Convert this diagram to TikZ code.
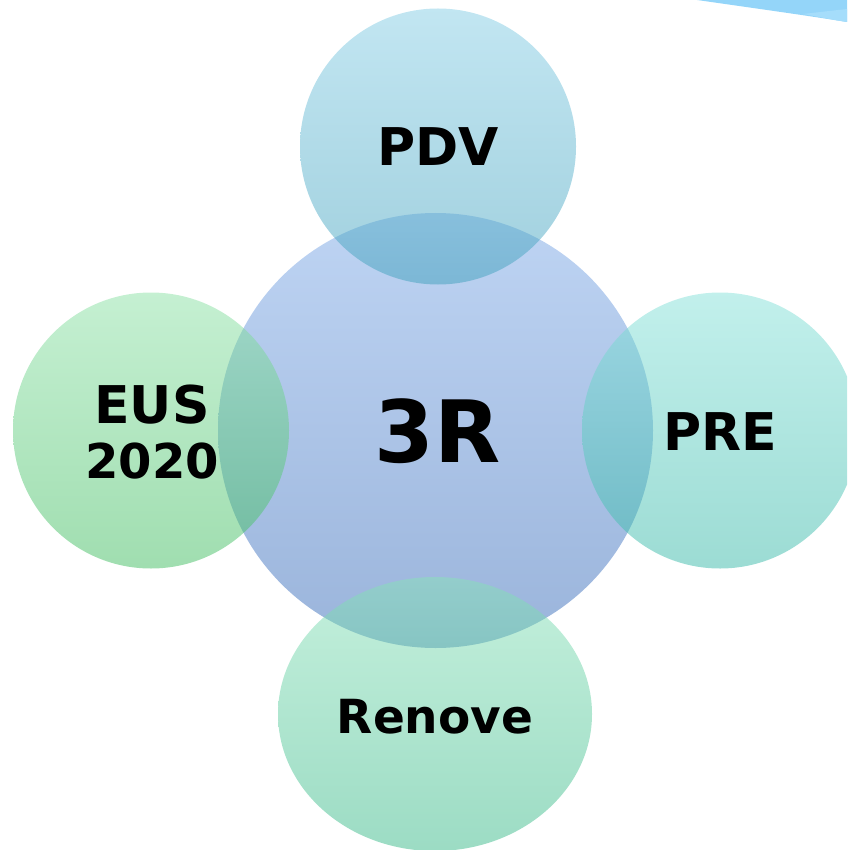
\documentclass[tikz,border=0pt]{standalone}
\usepackage{fontspec}
\setmainfont{DejaVu Sans}
\definecolor{ctop}{RGB}{190,212,243}
\definecolor{cbot}{RGB}{154,180,219}
\definecolor{pdvtop}{RGB}{133,205,229}
\definecolor{pdvbot}{RGB}{65,161,189}
\definecolor{eustop}{RGB}{139,225,165}
\definecolor{eusbot}{RGB}{65,189,97}
\definecolor{pretop}{RGB}{133,225,217}
\definecolor{prebot}{RGB}{57,185,169}
\definecolor{rentop}{RGB}{137,225,185}
\definecolor{renbot}{RGB}{57,185,137}
\definecolor{arcmain}{RGB}{148,213,249}
\definecolor{arclight}{RGB}{165,221,251}
\tikzset{
  lbl/.style={font=\bfseries\fontsize{52}{55}\selectfont, text=black, inner sep=0pt, anchor=base, align=center},
  outer/.style={fill opacity=0.5}
}
\begin{document}
\begin{tikzpicture}[x=1pt,y=-1pt]
\useasboundingbox (0,0) rectangle (847,850);
\clip (0,0) rectangle (847,850);
% top-right partial shape
\fill[arcmain] (697,0) .. controls (760,9) and (810,16) .. (847,22) -- (847,0) -- cycle;
\fill[arclight] (803,14) -- (847,9) -- (847,22) .. controls (830,19.5) and (815,16) .. (803,14) -- cycle;
% central circle
\shade[top color=ctop, bottom color=cbot] (435.5,430.5) circle[radius=217.5];
% outer circles
\shade[outer, top color=pdvtop, bottom color=pdvbot] (438,146.5) circle[radius=138];
\shade[outer, top color=eustop, bottom color=eusbot] (151,430.5) circle[radius=138];
\shade[outer, top color=pretop, bottom color=prebot] (720,430.5) circle[radius=138];
\shade[outer, top color=rentop, bottom color=renbot] (435,714) ellipse[x radius=157, y radius=137];
% labels
\node[lbl, font=\bfseries\fontsize{86}{90}\selectfont] (r3) at (438,462) {3R};
\node[lbl] (pdv) at (438,166) {PDV};
\node[lbl] (eus) at (152,423) {EUS};
\node[lbl, font=\bfseries\fontsize{48}{55}\selectfont] (y2020) at (152,478) {2020};
\node[lbl] (pre) at (720,450) {PRE};
\node[lbl, font=\bfseries\fontsize{47}{55}\selectfont] (ren) at (435,733) {Renove};
\end{tikzpicture}
\end{document}
